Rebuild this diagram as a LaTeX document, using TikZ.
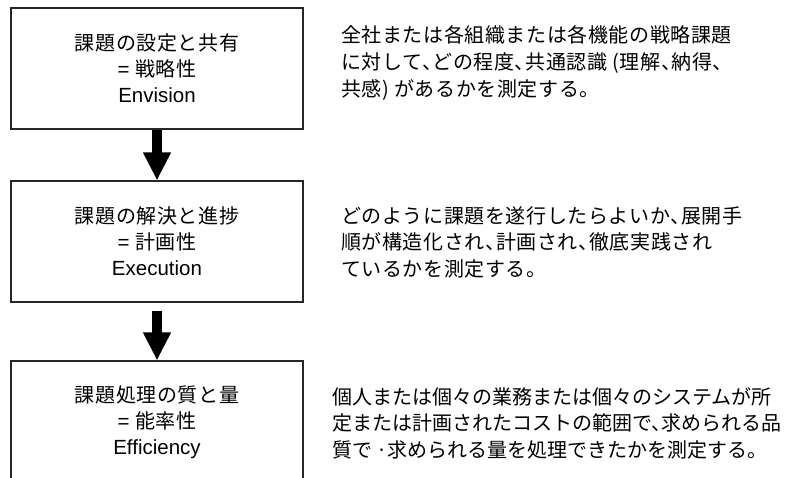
\documentclass[tikz,border=0pt]{standalone}
\usepackage{fontspec}
\setmainfont{Liberation Sans}
\newfontfamily\cjk[LetterSpace=3,RawFeature=+halt]{Noto Sans CJK JP}
\newfontfamily\cjknarrow[RawFeature=+halt]{Noto Sans CJK JP}
\usetikzlibrary{arrows.meta}
\begin{document}
\begin{tikzpicture}[x=1pt,y=-1pt,
  box/.style={draw=black!85, line width=1.1pt, minimum width=292pt, minimum height=121pt,
    inner sep=0pt, align=center, font=\fontsize{20.5}{26}\selectfont},
  boxtext/.style={inner sep=0pt, align=center, font=\fontsize{20.5}{26}\selectfont},
  desc/.style={anchor=west, align=left, inner sep=0pt, font=\fontsize{20}{26.5}\selectfont\cjk},
  bigarrow/.style={draw=black, line width=10pt, -{Triangle[width=26pt,length=28pt]}}]
\useasboundingbox (0,0) rectangle (789,478);
\clip (0,0) rectangle (789,478);
\fill[white] (0,0) rectangle (789,478);
% boxes
\node[box] (b1) at (157,68.5) {{\cjk\fontsize{20}{26}\selectfont 課題の設定と共有}\\= {\cjk\fontsize{20}{26}\selectfont 戦略性}\\Envision};
\node[box] (b2) at (157,241.5) {{\cjk\fontsize{20}{26}\selectfont 課題の解決と進捗}\\= {\cjk\fontsize{20}{26}\selectfont 計画性}\\Execution};
\node[box, minimum height=160pt] (b3) at (157,441) {};
\node[boxtext] (t3) at (157,422) {{\cjk\fontsize{20}{26}\selectfont 課題処理の質と量}\\= {\cjk\fontsize{20}{26}\selectfont 能率性}\\Efficiency};
% arrows
\draw[bigarrow] (b1.south) -- (b2.north);
\coordinate (a2s) at ([yshift=-8pt]b2.south);
\draw[bigarrow] (a2s) -- (b3.north);
% descriptions
\node[desc, font=\fontsize{20}{27}\selectfont\cjk] (d1) at (341,62.5) {全社または各組織または各機能の戦略課題\\に対して、どの程度、共通認識 (理解、納得、\\共感) があるかを測定する。};
\node[desc] (d2) at (341,242) {どのように課題を遂行したらよいか、展開手\\順が構造化され、計画され、徹底実践され\\ているかを測定する。};
\node[desc, font=\fontsize{20}{26.5}\selectfont\cjknarrow] (d3) at (332,423) {個人または個々の業務または個々のシステムが所\\定または計画されたコストの範囲で、求められる品\\質で ·求められる量を処理できたかを測定する。};
\end{tikzpicture}
\end{document}
